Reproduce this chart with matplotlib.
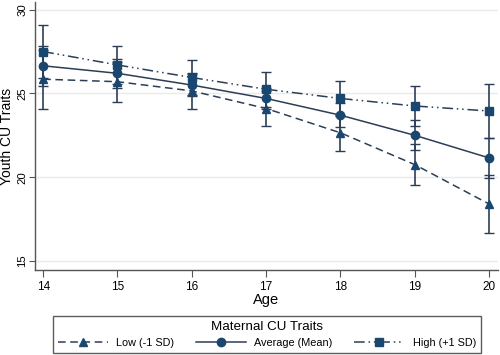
import matplotlib
matplotlib.use("Agg")
import matplotlib.pyplot as plt

plt.rcParams['font.family'] = ['Liberation Sans', 'DejaVu Sans']

ages = [14, 15, 16, 17, 18, 19, 20]

low_mean = [25.85, 25.70, 25.15, 24.10, 22.65, 20.75, 18.40]
avg_mean = [26.65, 26.20, 25.50, 24.70, 23.70, 22.50, 21.15]
high_mean = [27.50, 26.70, 25.95, 25.25, 24.70, 24.25, 23.95]

low_ci = [1.75, 1.20, 1.07, 1.04, 1.06, 1.22, 1.75]
avg_ci = [1.20, 0.85, 0.65, 0.65, 0.70, 0.90, 1.20]
high_ci = [1.60, 1.15, 1.02, 1.05, 1.05, 1.20, 1.60]

labels = ['Low (-1 SD)', 'Average (Mean)', 'High (+1 SD)']
yticks = [15, 20, 25, 30]

navy = '#1a476f'
line_col = '#2c3e55'

fig = plt.figure(figsize=(5, 3.55), dpi=100)
ax = fig.add_axes([0.07, 0.239, 0.926, 0.755])

series = [
    (low_mean, low_ci, '^', (0, (5, 3))),
    (avg_mean, avg_ci, 'o', '-'),
    (high_mean, high_ci, 's', (0, (7, 2.5, 1, 2.5, 1, 2.5))),
]
handles = []
for (m, ci, mk, ls), lab in zip(series, labels):
    ax.errorbar(ages, m, yerr=ci, fmt='none', ecolor=line_col, elinewidth=1.2,
                capsize=3.5, capthick=1.0, zorder=2)
    h, = ax.plot(ages, m, color=line_col, linestyle=ls, linewidth=1.1,
                 marker=mk, markersize=6, markerfacecolor=navy,
                 markeredgecolor=navy, label=lab, zorder=3)
    handles.append(h)

ax.set_xlim(13.89, 20.12)
ax.set_ylim(14.45, 30.45)
ax.set_xticks(ages)
ax.set_yticks(yticks)
ax.set_yticklabels([str(t) for t in yticks], rotation=90, va='center')
ax.grid(axis='y', color='#eaeaea', linewidth=1.0)
ax.set_axisbelow(True)
for s in ['top', 'right']:
    ax.spines[s].set_visible(False)
for s in ['left', 'bottom']:
    ax.spines[s].set_color('#555555')
    ax.spines[s].set_linewidth(1.0)
ax.tick_params(axis='x', labelsize=8.5, color='#555555', length=5, width=0.8, pad=2.5)
ax.tick_params(axis='y', labelsize=8.2, color='#555555', length=4.5, width=0.8, pad=1.2)
ax.set_xlabel('Age', fontsize=10.5, labelpad=0)
ax.set_ylabel('Youth CU Traits', fontsize=10)
ax.yaxis.set_label_coords(-0.045, 0.5)

leg = fig.legend(handles=handles, labels=labels, ncol=3, loc='lower center',
                 bbox_to_anchor=(0.534, 0.006), title='Maternal CU Traits',
                 fontsize=7.8, title_fontsize=9.6, frameon=True, fancybox=False,
                 edgecolor='#333333', handlelength=4.6, columnspacing=2.0,
                 borderpad=0.45, handletextpad=0.8, borderaxespad=0)
leg.get_frame().set_linewidth(1.0)

fig.savefig('out.png', dpi=100)
